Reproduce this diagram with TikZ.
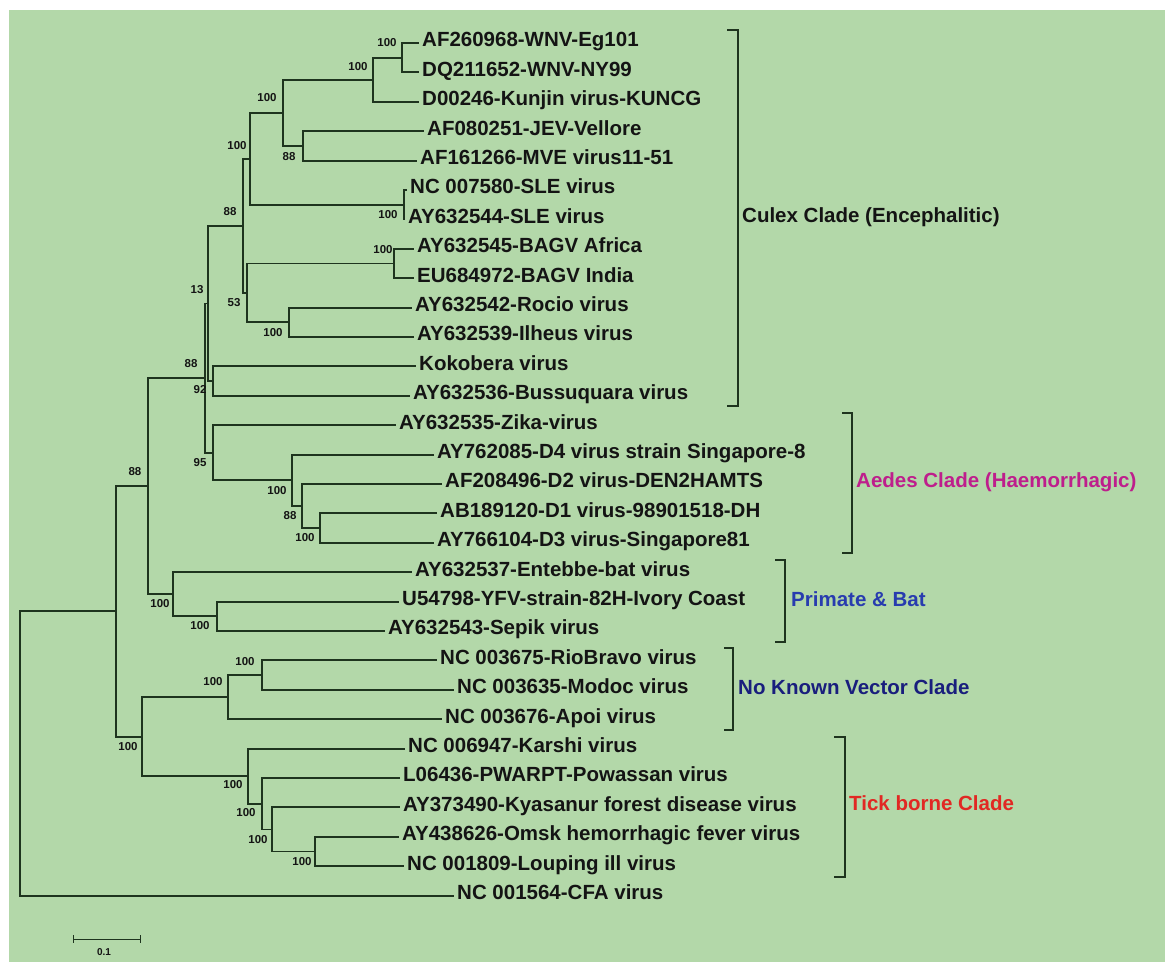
\documentclass[tikz,border=0pt]{standalone}
\usepackage{fontspec}
\setmainfont{Liberation Sans}
\definecolor{bg}{RGB}{179,216,169}
\definecolor{ln}{RGB}{30,52,30}
\definecolor{txt}{RGB}{20,20,20}
\definecolor{aedes}{RGB}{190,30,140}
\definecolor{prim}{RGB}{40,60,175}
\definecolor{nkv}{RGB}{25,30,125}
\definecolor{tickc}{RGB}{225,40,35}
\begin{document}
\begin{tikzpicture}[x=1pt,y=-1pt,
  leaf/.style={anchor=west, inner xsep=3pt, inner ysep=0pt, text height=12pt, text depth=4.3pt, font=\fontsize{20.5}{24}\selectfont\bfseries, text=txt},
  boot/.style={inner sep=0pt, font=\fontsize{11.5}{12}\selectfont\bfseries, text=txt},
  br/.style={draw=ln, line width=1.9pt},
  bracketline/.style={draw=ln, line width=1.4pt},
  clade/.style={anchor=west, inner sep=0pt, font=\fontsize{20.5}{24}\selectfont\bfseries}
]
\fill[white] (0,0) rectangle (1167,962);
\fill[bg] (9,10) rectangle (1165,962);
\useasboundingbox (0,0) rectangle (1167,962);

% leaves
\node[leaf] (L1)  at (419,43)    {AF260968-WNV-Eg101};
\node[leaf] (L2)  at (419,72.4)  {DQ211652-WNV-NY99};
\node[leaf] (L3)  at (419,101.8) {D00246-Kunjin virus-KUNCG};
\node[leaf] (L4)  at (424,131.2) {AF080251-JEV-Vellore};
\node[leaf] (L5)  at (417,160.6) {AF161266-MVE virus11-51};
\node[leaf] (L6)  at (407,190)   {NC 007580-SLE virus};
\node[leaf] (L7)  at (405,219.4) {AY632544-SLE virus};
\node[leaf] (L8)  at (414,248.8) {AY632545-BAGV Africa};
\node[leaf] (L9)  at (414,278.2) {EU684972-BAGV India};
\node[leaf] (L10) at (412,307.6) {AY632542-Rocio virus};
\node[leaf] (L11) at (414,337)   {AY632539-Ilheus virus};
\node[leaf] (L12) at (416,366.4) {Kokobera virus};
\node[leaf] (L13) at (410,395.8) {AY632536-Bussuquara virus};
\node[leaf] (L14) at (396,425.2) {AY632535-Zika-virus};
\node[leaf] (L15) at (434,454.6) {AY762085-D4 virus strain Singapore-8};
\node[leaf] (L16) at (442,484)   {AF208496-D2 virus-DEN2HAMTS};
\node[leaf] (L17) at (437,513.4) {AB189120-D1 virus-98901518-DH};
\node[leaf] (L18) at (434,542.8) {AY766104-D3 virus-Singapore81};
\node[leaf] (L19) at (412,572.2) {AY632537-Entebbe-bat virus};
\node[leaf] (L20) at (399,601.6) {U54798-YFV-strain-82H-Ivory Coast};
\node[leaf] (L21) at (385,631)   {AY632543-Sepik virus};
\node[leaf] (L22) at (437,660.4) {NC 003675-RioBravo virus};
\node[leaf] (L23) at (454,689.8) {NC 003635-Modoc virus};
\node[leaf] (L24) at (442,719.2) {NC 003676-Apoi virus};
\node[leaf] (L25) at (405,748.6) {NC 006947-Karshi virus};
\node[leaf] (L26) at (400,778)   {L06436-PWARPT-Powassan virus};
\node[leaf] (L27) at (400,807.4) {AY373490-Kyasanur forest disease virus};
\node[leaf] (L28) at (399,836.8) {AY438626-Omsk hemorrhagic fever virus};
\node[leaf] (L29) at (404,866.2) {NC 001809-Louping ill virus};
\node[leaf] (L30) at (454,895.6) {NC 001564-CFA virus};

% internal nodes
\coordinate (n12)   at (402,57.7);
\coordinate (n123)  at (373,79.75);
\coordinate (n45)   at (303,145.9);
\coordinate (n15)   at (283,112.8);
\coordinate (n67)   at (404,204.7);
\coordinate (n17)   at (250,158.75);
\coordinate (n89)   at (394,263.5);
\coordinate (n1011) at (289,322.3);
\coordinate (nB)    at (247,292.9);
\coordinate (nA)    at (243,225.8);
\coordinate (nKB)   at (213,381.1);
\coordinate (nC)    at (208,303.45);
\coordinate (n1718) at (320,528.1);
\coordinate (n1618) at (302,506.05);
\coordinate (n1518) at (292,480.3);
\coordinate (nZD)   at (213,452.75);
\coordinate (nD)    at (205,378.1);
\coordinate (n2021) at (217,616.3);
\coordinate (nPB)   at (173,594.25);
\coordinate (nE)    at (148,486.2);
\coordinate (n2223) at (262,675.1);
\coordinate (nNKV)  at (228,697.15);
\coordinate (n2829) at (315,851.5);
\coordinate (nT3)   at (272,829.45);
\coordinate (nT2)   at (262,803.7);
\coordinate (nT1)   at (248,776.15);
\coordinate (nG)    at (142,736.65);
\coordinate (nF)    at (116,611.4);
\coordinate (nR)    at (20,753.5);

% branches
\draw[br] (n12) |- (L1.west) (n12) |- (L2.west);
\draw[br] (n123) |- (n12) (n123) |- (L3.west);
\draw[br] (n45) |- (L4.west) (n45) |- (L5.west);
\draw[br] (n15) |- (n123) (n15) |- (n45);
\draw[br] (n67) |- (L6.west) (n67) |- (L7.west);
\draw[br] (n17) |- (n15) (n17) |- (n67);
\draw[br] (n89) |- (L8.west) (n89) |- (L9.west);
\draw[br] (n1011) |- (L10.west) (n1011) |- (L11.west);
\draw[br] (nB) |- (n89) (nB) |- (n1011);
\draw[br] (nA) |- (n17) (nA) |- (nB);
\draw[br] (nKB) |- (L12.west) (nKB) |- (L13.west);
\draw[br] (nC) |- (nA) (nC) |- (nKB);
\draw[br] (n1718) |- (L17.west) (n1718) |- (L18.west);
\draw[br] (n1618) |- (L16.west) (n1618) |- (n1718);
\draw[br] (n1518) |- (L15.west) (n1518) |- (n1618);
\draw[br] (nZD) |- (L14.west) (nZD) |- (n1518);
\draw[br] (nD) |- (nC) (nD) |- (nZD);
\draw[br] (n2021) |- (L20.west) (n2021) |- (L21.west);
\draw[br] (nPB) |- (L19.west) (nPB) |- (n2021);
\draw[br] (nE) |- (nD) (nE) |- (nPB);
\draw[br] (n2223) |- (L22.west) (n2223) |- (L23.west);
\draw[br] (nNKV) |- (n2223) (nNKV) |- (L24.west);
\draw[br] (n2829) |- (L28.west) (n2829) |- (L29.west);
\draw[br] (nT3) |- (L27.west) (nT3) |- (n2829);
\draw[br] (nT2) |- (L26.west) (nT2) |- (nT3);
\draw[br] (nT1) |- (L25.west) (nT1) |- (nT2);
\draw[br] (nG) |- (nNKV) (nG) |- (nT1);
\draw[br] (nF) |- (nE) (nF) |- (nG);
\draw[br] (nR) |- (nF) (nR) |- (L30.west);

% bootstrap values
\node[boot] (b1)  at (387,43)  {100};
\node[boot] (b2)  at (358,67)  {100};
\node[boot] (b3)  at (267,98)  {100};
\node[boot] (b4)  at (237,146) {100};
\node[boot] (b5)  at (289,157) {88};
\node[boot] (b6)  at (388,215) {100};
\node[boot] (b7)  at (383,250) {100};
\node[boot] (b8)  at (230,212) {88};
\node[boot] (b9)  at (234,303) {53};
\node[boot] (b10) at (273,333) {100};
\node[boot] (b11) at (197,290) {13};
\node[boot] (b12) at (191,364) {88};
\node[boot] (b13) at (200,390) {92};
\node[boot] (b14) at (200,463) {95};
\node[boot] (b15) at (277,491) {100};
\node[boot] (b16) at (290,516) {88};
\node[boot] (b17) at (305,538) {100};
\node[boot] (b18) at (135,472) {88};
\node[boot] (b19) at (160,604) {100};
\node[boot] (b20) at (200,626) {100};
\node[boot] (b21) at (245,662) {100};
\node[boot] (b22) at (213,682) {100};
\node[boot] (b23) at (128,747) {100};
\node[boot] (b24) at (233,785) {100};
\node[boot] (b25) at (246,813) {100};
\node[boot] (b26) at (258,840) {100};
\node[boot] (b27) at (302,862) {100};

% clade brackets
\coordinate (cu1) at (727,30);  \coordinate (cu2) at (738,30);
\coordinate (cu3) at (738,406); \coordinate (cu4) at (727,406);
\draw[bracketline] (cu1) -- (cu2) -- (cu3) -- (cu4);
\node[clade, text=txt] (kcu) at (742,217) {Culex Clade (Encephalitic)};

\coordinate (ae1) at (842,413); \coordinate (ae2) at (852,413);
\coordinate (ae3) at (852,553); \coordinate (ae4) at (842,553);
\draw[bracketline] (ae1) -- (ae2) -- (ae3) -- (ae4);
\node[clade, text=aedes] (kae) at (856,482) {Aedes Clade (Haemorrhagic)};

\coordinate (pb1) at (775,560); \coordinate (pb2) at (785,560);
\coordinate (pb3) at (785,642); \coordinate (pb4) at (775,642);
\draw[bracketline] (pb1) -- (pb2) -- (pb3) -- (pb4);
\node[clade, text=prim] (kpb) at (791,599) {Primate \& Bat};

\coordinate (nk1) at (724,648); \coordinate (nk2) at (733,648);
\coordinate (nk3) at (733,730); \coordinate (nk4) at (724,730);
\draw[bracketline] (nk1) -- (nk2) -- (nk3) -- (nk4);
\node[clade, text=nkv] (knk) at (738,687) {No Known Vector Clade};

\coordinate (tb1) at (834,737); \coordinate (tb2) at (845,737);
\coordinate (tb3) at (845,877); \coordinate (tb4) at (834,877);
\draw[bracketline] (tb1) -- (tb2) -- (tb3) -- (tb4);
\node[clade, text=tickc] (ktb) at (849,803) {Tick borne Clade};

% scale bar
\coordinate (s1) at (73,939); \coordinate (s2) at (140,939);
\draw[ln, line width=0.9pt] (s1) -- (s2);
\draw[ln, line width=0.9pt] ([yshift=4pt]s1) -- ([yshift=-4pt]s1);
\draw[ln, line width=0.9pt] ([yshift=4pt]s2) -- ([yshift=-4pt]s2);
\node[boot, font=\fontsize{10}{11}\selectfont\bfseries] (sl) at (104,952) {0.1};
\end{tikzpicture}
\end{document}
